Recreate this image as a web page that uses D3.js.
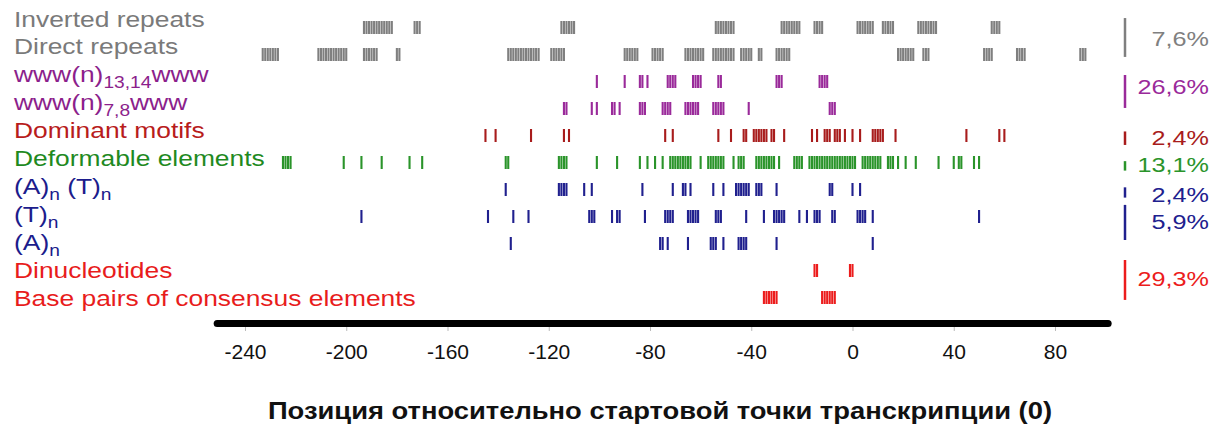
<!DOCTYPE html>
<html>
<head>
<meta charset="utf-8">
<script src="https://cdn.jsdelivr.net/npm/d3@7/dist/d3.min.js"></script>
<style>
  html, body { margin: 0; padding: 0; background: #fff; }
  svg { display: block; font-family: "Liberation Sans", Arial, sans-serif; }
</style>
</head>
<body>
<script>
// segments are [first bp, last bp], one tick per base pair
var invertedRepeats = [[-193,-182],[-173,-171],[-115,-110],[-54,-47],[-28,-21],[-15,-12],[2,8],[12,16],[26,33],[55,58]];
var directRepeats = [[-233,-227],[-211,-200],[-193,-188],[-180,-179],[-136,-124],[-119,-114],[-90,-85],[-79,-75],[-66,-59],[-55,-47],[-44,-40],[-37,-36],[-30,-25],[18,24],[28,30],[52,55],[65,68],[90,92]];
var www1314 = [[-101,-101],[-90,-90],[-84,-83],[-81,-81],[-73,-70],[-63,-60],[-53,-52],[-30,-28],[-13,-10]];
var www78 = [[-114,-113],[-103,-103],[-101,-101],[-95,-94],[-92,-92],[-84,-82],[-75,-72],[-66,-61],[-55,-51],[-41,-41],[-9,-7]];
var dominantMotifs = [[-145,-145],[-141,-141],[-127,-127],[-114,-114],[-112,-112],[-74,-74],[-71,-71],[-53,-53],[-48,-48],[-43,-42],[-39,-35],[-34,-34],[-32,-31],[-27,-27],[-16,-16],[-14,-14],[-11,-9],[-7,-5],[-3,-3],[0,0],[3,3],[8,12],[17,17],[45,45],[58,58],[60,60]];
var deformable = [[-225,-222],[-201,-201],[-194,-194],[-186,-186],[-175,-175],[-170,-170],[-137,-136],[-116,-113],[-101,-101],[-93,-93],[-84,-84],[-81,-81],[-78,-78],[-75,-75],[-72,-64],[-60,-60],[-57,-51],[-47,-47],[-45,-43],[-38,-31],[-29,-29],[-23,-20],[-17,1],[4,11],[14,16],[18,18],[21,21],[25,25],[34,34],[40,40],[42,43],[48,48],[50,50]];
var anTn = [[-137,-137],[-116,-113],[-106,-106],[-103,-103],[-83,-83],[-71,-71],[-67,-66],[-64,-64],[-55,-55],[-51,-51],[-46,-41],[-38,-36],[-30,-30],[-9,-8],[0,0],[3,3]];
var tn = [[-194,-194],[-144,-144],[-134,-134],[-128,-128],[-104,-102],[-95,-95],[-93,-92],[-82,-82],[-74,-71],[-65,-61],[-54,-52],[-42,-42],[-35,-35],[-31,-27],[-21,-21],[-18,-18],[-15,-13],[-8,-7],[2,5],[8,8],[50,50]];
var an = [[-135,-135],[-76,-75],[-73,-73],[-65,-65],[-56,-54],[-51,-51],[-45,-42],[-30,-30],[8,8]];
var dinucleotides = [[-15,-14],[-1,0]];
var basePairs = [[-35,-30],[-12,-7]];

var percentages = ["7,6%", "26,6%", "2,4%", "13,1%", "2,4%", "5,9%", "29,3%"];
var tickValues = [-240, -200, -160, -120, -80, -40, 0, 40, 80];
var axisTitle = "Позиция относительно стартовой точки транскрипции (0)";

var gray = "#7f7f7f", purple = "#9a2a9a", darkRed = "#a81c1c", green = "#2a942a", navy = "#20208e", red = "#ec1c1c";

// label pieces: [text, isSubscript]
var rows = [
  {parts: [["Inverted repeats"]], data: invertedRepeats, color: gray, text: "#7a7a7a"},
  {parts: [["Direct repeats"]], data: directRepeats, color: gray, text: "#7a7a7a"},
  {parts: [["www(n)"], ["13,14", 1], ["www"]], data: www1314, color: purple, text: "#8c1f8c"},
  {parts: [["www(n)"], ["7,8", 1], ["www"]], data: www78, color: purple, text: "#8c1f8c"},
  {parts: [["Dominant motifs"]], data: dominantMotifs, color: darkRed, text: "#b81c1c"},
  {parts: [["Deformable elements"]], data: deformable, color: green, text: "#1f8a1f"},
  {parts: [["(A)"], ["n", 1], [" (T)"], ["n", 1]], data: anTn, color: navy, text: "#1c1c8c"},
  {parts: [["(T)"], ["n", 1]], data: tn, color: navy, text: "#1c1c8c"},
  {parts: [["(A)"], ["n", 1]], data: an, color: navy, text: "#1c1c8c"},
  {parts: [["Dinucleotides"]], data: dinucleotides, color: red, text: "#e81c1c"},
  {parts: [["Base pairs of consensus elements"]], data: basePairs, color: red, text: "#e81c1c"}
];

// right-hand brackets, in row units
var brackets = [
  {from: -0.35, to: 1.09, label: 0.39, color: gray, text: "#808080"},
  {from: 1.76, to: 2.98, label: 2.2, color: purple, text: "#9a2a9a"},
  {from: 3.85, to: 4.35, label: 4.09, color: darkRed, text: "#a81c1c"},
  {from: 4.95, to: 5.3, label: 5.09, color: green, text: "#2a942a"},
  {from: 5.92, to: 6.3, label: 6.17, color: navy, text: "#20208e"},
  {from: 6.57, to: 7.87, label: 7.17, color: navy, text: "#20208e"},
  {from: 8.61, to: 10.09, label: 9.31, color: red, text: "#ec1c1c"}
];

var width = 1220, height = 427;

var svg = d3.select("body").append("svg")
    .attr("width", width)
    .attr("height", height);

var x = d3.scaleLinear().domain([-240, 80]).range([245, 1055]);
var y = d3.scaleLinear().domain([0, 10]).range([27.5, 297.5]);
var yLabel = d3.scaleLinear().domain([0, 10]).range([26.5, 305.5]);

// tick marks
rows.forEach(function(row, i) {
  var ticks = [];
  row.data.forEach(function(seg) {
    d3.range(seg[0], seg[1] + 1).forEach(function(v) { ticks.push(v); });
  });
  svg.append("g").selectAll("rect")
      .data(ticks)
    .enter().append("rect")
      .attr("x", function(d) { return x(d) - 1.05; })
      .attr("y", y(i) - 6.5)
      .attr("width", 2.1)
      .attr("height", 13)
      .attr("fill", row.color);
});

// row labels
rows.forEach(function(row, i) {
  var t = svg.append("text")
      .attr("transform", "translate(14," + yLabel(i) + ") scale(1.2,1)")
      .attr("font-size", 22)
      .attr("fill", row.text);
  var down = 0;
  row.parts.forEach(function(p) {
    var shift = p[1] ? 6 : 0;
    t.append("tspan")
        .attr("dy", shift - down)
        .attr("font-size", p[1] ? 16 : 22)
        .text(p[0]);
    down = shift;
  });
});

// brackets and percentages
brackets.forEach(function(b, i) {
  svg.append("line")
      .attr("x1", 1125).attr("x2", 1125)
      .attr("y1", y(b.from)).attr("y2", y(b.to))
      .attr("stroke", b.color)
      .attr("stroke-width", 2.5);
  svg.append("text")
      .attr("transform", "translate(1209," + (y(b.label) + 7.5) + ") scale(1.2,1)")
      .attr("text-anchor", "end")
      .attr("font-size", 21)
      .attr("fill", b.text)
      .text(percentages[i]);
});

// axis
var axisY = 323.5;
svg.append("line")
    .attr("x1", x(-251)).attr("x2", x(101))
    .attr("y1", axisY).attr("y2", axisY)
    .attr("stroke", "#000")
    .attr("stroke-width", 7)
    .attr("stroke-linecap", "round");

var axis = svg.append("g")
    .attr("transform", "translate(0," + (axisY + 3.5) + ")")
    .call(d3.axisBottom(x).tickValues(tickValues).tickSize(4).tickPadding(13)
      .tickFormat(function(d) { return String(d); }));
axis.select(".domain").remove();
axis.selectAll(".tick line").attr("stroke", "#bbb");
axis.selectAll(".tick text")
    .attr("font-size", 21)
    .attr("font-family", "Liberation Sans, Arial, sans-serif")
    .attr("fill", "#111");

svg.append("text")
    .attr("transform", "translate(660,419) scale(1.14,1)")
    .attr("text-anchor", "middle")
    .attr("font-size", 24)
    .attr("font-weight", "bold")
    .attr("fill", "#111")
    .text(axisTitle);
</script>
</body>
</html>
